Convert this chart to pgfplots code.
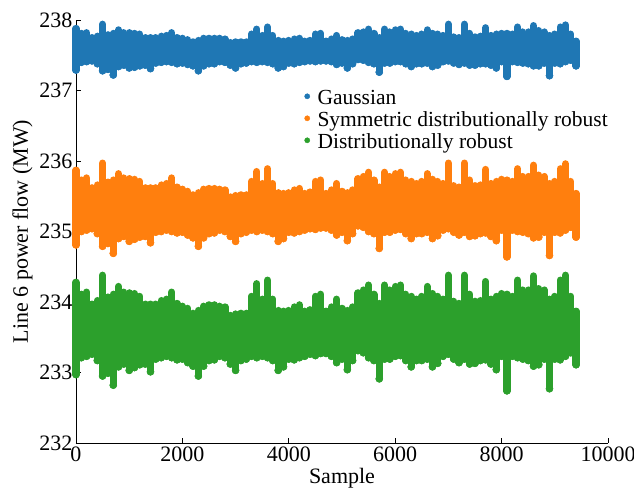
\documentclass[border=0pt]{standalone}
\usepackage{fontspec}
\setmainfont{Liberation Serif}
\usepackage{pgfplots}
\pgfplotsset{compat=1.18}
\usepackage{pgfplotstable}
\definecolor{tabblue}{HTML}{1F77B4}
\definecolor{taborange}{HTML}{FF7F0E}
\definecolor{tabgreen}{HTML}{2CA02C}

\pgfplotstableread{
s lo hi
0 237.29 237.88
100 237.40 237.81
200 237.41 237.82
300 237.42 237.75
400 237.38 237.77
500 237.28 237.94
600 237.30 237.79
700 237.22 237.81
800 237.34 237.86
900 237.36 237.82
1000 237.32 237.82
1100 237.33 237.81
1200 237.35 237.80
1300 237.36 237.75
1400 237.31 237.75
1500 237.39 237.75
1600 237.40 237.77
1700 237.41 237.78
1800 237.40 237.82
1900 237.38 237.75
2000 237.39 237.74
2100 237.37 237.72
2200 237.35 237.69
2300 237.28 237.71
2400 237.35 237.74
2500 237.38 237.74
2600 237.38 237.74
2700 237.41 237.74
2800 237.40 237.73
2900 237.36 237.68
3000 237.32 237.69
3100 237.38 237.69
3200 237.39 237.69
3300 237.41 237.80
3400 237.40 237.87
3500 237.41 237.78
3600 237.40 237.90
3700 237.38 237.78
3800 237.32 237.71
3900 237.34 237.70
4000 237.39 237.71
4100 237.38 237.73
4200 237.40 237.74
4300 237.41 237.70
4400 237.42 237.71
4500 237.41 237.80
4600 237.42 237.81
4700 237.42 237.70
4800 237.41 237.73
4900 237.37 237.78
5000 237.39 237.72
5100 237.32 237.71
5200 237.38 237.73
5300 237.44 237.82
5400 237.43 237.83
5500 237.40 237.87
5600 237.38 237.81
5700 237.26 237.75
5800 237.39 237.87
5900 237.39 237.83
6000 237.41 237.86
6100 237.41 237.87
6200 237.38 237.81
6300 237.34 237.80
6400 237.38 237.78
6500 237.38 237.80
6600 237.39 237.86
6700 237.34 237.81
6800 237.36 237.80
6900 237.41 237.78
7000 237.42 237.94
7100 237.39 237.76
7200 237.37 237.75
7300 237.39 237.94
7400 237.36 237.81
7500 237.36 237.76
7600 237.38 237.77
7700 237.38 237.89
7800 237.36 237.78
7900 237.32 237.80
8000 237.41 237.81
8100 237.20 237.81
8200 237.41 237.80
8300 237.40 237.90
8400 237.39 237.83
8500 237.38 237.83
8600 237.35 237.92
8700 237.35 237.85
8800 237.39 237.83
8900 237.21 237.78
9000 237.39 237.80
9100 237.38 237.90
9200 237.41 237.93
9300 237.43 237.80
9400 237.35 237.70
}\bluedata

\pgfplotstableread{
s lo hi
0 234.81 235.87
100 235.00 235.73
200 235.02 235.76
300 235.04 235.62
400 234.97 235.66
500 234.79 235.97
600 234.83 235.70
700 234.69 235.73
800 234.90 235.82
900 234.93 235.76
1000 234.86 235.75
1100 234.89 235.74
1200 234.92 235.71
1300 234.93 235.62
1400 234.84 235.62
1500 234.99 235.62
1600 235.00 235.66
1700 235.02 235.68
1800 235.00 235.76
1900 234.98 235.63
2000 234.99 235.60
2100 234.95 235.57
2200 234.91 235.52
2300 234.79 235.55
2400 234.91 235.60
2500 234.97 235.61
2600 234.98 235.61
2700 235.02 235.60
2800 235.00 235.59
2900 234.93 235.49
3000 234.86 235.51
3100 234.97 235.52
3200 234.99 235.52
3300 235.02 235.71
3400 235.00 235.85
3500 235.02 235.68
3600 235.00 235.89
3700 234.97 235.68
3800 234.86 235.55
3900 234.90 235.54
4000 234.99 235.55
4100 234.98 235.59
4200 235.00 235.61
4300 235.02 235.54
4400 235.04 235.56
4500 235.03 235.71
4600 235.05 235.73
4700 235.05 235.54
4800 235.02 235.59
4900 234.95 235.68
5000 234.99 235.57
5100 234.87 235.55
5200 234.97 235.59
5300 235.08 235.75
5400 235.06 235.78
5500 235.00 235.84
5600 234.97 235.73
5700 234.76 235.63
5800 234.99 235.84
5900 234.99 235.78
6000 235.02 235.82
6100 235.03 235.84
6200 234.97 235.73
6300 234.90 235.71
6400 234.97 235.68
6500 234.97 235.71
6600 234.99 235.82
6700 234.90 235.74
6800 234.94 235.71
6900 235.02 235.68
7000 235.04 235.97
7100 234.99 235.65
7200 234.95 235.63
7300 234.99 235.97
7400 234.93 235.73
7500 234.94 235.65
7600 234.97 235.66
7700 234.98 235.88
7800 234.93 235.68
7900 234.87 235.71
8000 235.02 235.74
8100 234.64 235.73
8200 235.02 235.71
8300 235.00 235.89
8400 234.99 235.78
8500 234.97 235.78
8600 234.91 235.94
8700 234.92 235.80
8800 234.99 235.78
8900 234.66 235.68
9000 234.99 235.71
9100 234.98 235.89
9200 235.02 235.96
9300 235.06 235.71
9400 234.92 235.54
}\orangedata

\pgfplotstableread{
s lo hi
0 232.97 234.28
100 233.21 234.11
200 233.23 234.14
300 233.26 233.97
400 233.17 234.02
500 232.95 234.38
600 232.99 234.07
700 232.82 234.11
800 233.08 234.22
900 233.12 234.14
1000 233.03 234.13
1100 233.07 234.12
1200 233.11 234.08
1300 233.12 233.97
1400 233.01 233.97
1500 233.19 233.97
1600 233.21 234.02
1700 233.23 234.04
1800 233.21 234.14
1900 233.18 233.98
2000 233.19 233.94
2100 233.14 233.91
2200 233.09 233.84
2300 232.95 233.88
2400 233.09 233.94
2500 233.17 233.96
2600 233.18 233.96
2700 233.23 233.94
2800 233.21 233.93
2900 233.12 233.81
3000 233.03 233.83
3100 233.17 233.84
3200 233.19 233.84
3300 233.23 234.08
3400 233.21 234.26
3500 233.23 234.04
3600 233.21 234.31
3700 233.17 234.04
3800 233.03 233.88
3900 233.08 233.87
4000 233.19 233.88
4100 233.18 233.93
4200 233.21 233.96
4300 233.23 233.87
4400 233.26 233.89
4500 233.24 234.08
4600 233.27 234.11
4700 233.27 233.87
4800 233.23 233.93
4900 233.14 234.04
5000 233.19 233.91
5100 233.04 233.88
5200 233.17 233.93
5300 233.31 234.13
5400 233.28 234.17
5500 233.21 234.24
5600 233.17 234.11
5700 232.91 233.98
5800 233.19 234.24
5900 233.19 234.17
6000 233.23 234.22
6100 233.24 234.24
6200 233.17 234.11
6300 233.08 234.08
6400 233.17 234.04
6500 233.17 234.08
6600 233.19 234.22
6700 233.08 234.12
6800 233.13 234.08
6900 233.23 234.04
7000 233.26 234.38
7100 233.19 234.01
7200 233.14 233.98
7300 233.19 234.38
7400 233.12 234.11
7500 233.13 234.01
7600 233.17 234.02
7700 233.18 234.29
7800 233.12 234.04
7900 233.04 234.08
8000 233.23 234.12
8100 232.74 234.11
8200 233.23 234.08
8300 233.21 234.31
8400 233.19 234.17
8500 233.17 234.17
8600 233.09 234.37
8700 233.11 234.19
8800 233.19 234.17
8900 232.77 234.04
9000 233.19 234.08
9100 233.18 234.31
9200 233.23 234.38
9300 233.28 234.08
9400 233.11 233.87
}\greendata

\pgfplotsset{
  band/.style={only marks, mark=*, mark size=3.6pt, color=#1, forget plot,
    error bars/.cd, y dir=plus, y explicit, error mark=none,
    error bar style={line width=7.2pt, line cap=round, color=#1}},
}

\begin{document}
\begin{tikzpicture}[font=\fontsize{22}{26}\selectfont]
\begin{axis}[
  scale only axis, width=532pt, height=423pt,
  xmin=0, xmax=10000, ymin=232, ymax=238,
  xtick={0,2000,4000,6000,8000,10000},
  ytick={232,233,234,235,236,237,238},
  scaled x ticks=false,
  axis x line*=bottom, axis y line*=left,
  tick align=inside, major tick length=5pt,
  axis line style={line width=0.9pt, black},
  tick style={line width=0.9pt, black},
  clip=false,
  /pgf/number format/assume math mode=true,
  /pgf/number format/set thousands separator={},
  tick label style={font=\fontsize{22}{26}\selectfont},
  label style={font=\fontsize{22}{26}\selectfont},
  xlabel={Sample},
  ylabel={Line 6 power flow (MW)},
  legend cell align=left,
  legend style={draw=none, fill=none, at={(0.429,0.839)}, anchor=north west,
    inner sep=0pt, row sep=0pt, column sep=7pt,
    font=\fontsize{21.5}{25}\selectfont,
    nodes={inner sep=0.5pt, text height=15.5pt, text depth=5.5pt}},
]
\addlegendimage{legend image code/.code={\fill[tabblue] (0pt,3pt) circle (2.6pt);}}
\addlegendentry{Gaussian}
\addlegendimage{legend image code/.code={\fill[taborange] (0pt,3pt) circle (2.6pt);}}
\addlegendentry{Symmetric distributionally robust}
\addlegendimage{legend image code/.code={\fill[tabgreen] (0pt,3pt) circle (2.6pt);}}
\addlegendentry{Distributionally robust}

\addplot[band=tabblue] table[x=s, y=lo, y error plus expr=\thisrow{hi}-\thisrow{lo}] {\bluedata};
\addplot[band=taborange] table[x=s, y=lo, y error plus expr=\thisrow{hi}-\thisrow{lo}] {\orangedata};
\addplot[band=tabgreen] table[x=s, y=lo, y error plus expr=\thisrow{hi}-\thisrow{lo}] {\greendata};
\end{axis}
\pgfresetboundingbox
\path[use as bounding box] ([xshift=-76pt,yshift=-46pt]current axis.south west) rectangle ([xshift=26pt,yshift=20pt]current axis.north east);
\end{tikzpicture}
\end{document}
